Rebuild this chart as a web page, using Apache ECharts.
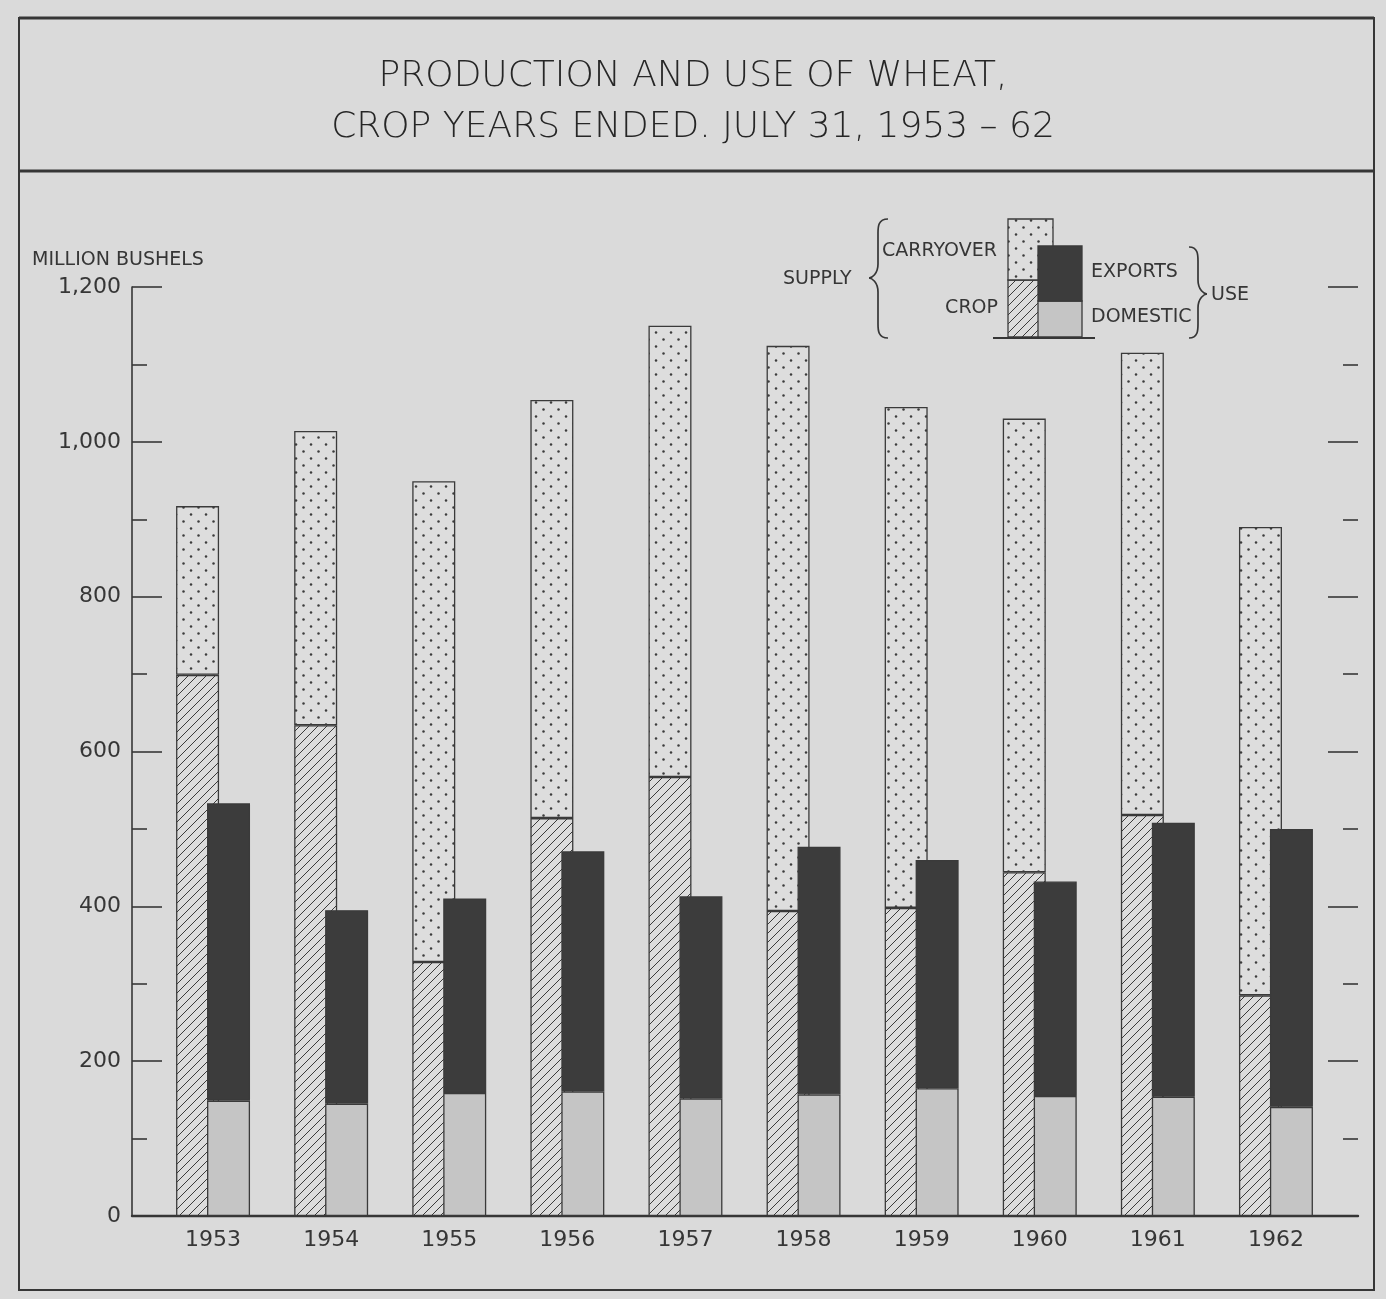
<!DOCTYPE html>
<html>
<head>
<meta charset="utf-8">
<script src="https://cdn.jsdelivr.net/npm/echarts@6/dist/echarts.min.js"></script>
<style>
  html, body { margin: 0; padding: 0; background: #d9d9d9; }
  #chart { width: 1386px; height: 1299px; }
</style>
</head>
<body>
<div id="chart"></div>
<script>
// crop years ended July 31, million bushels
const years = ['1953', '1954', '1955', '1956', '1957', '1958', '1959', '1960', '1961', '1962'];
const crop = [699, 634, 328, 514, 567, 394, 398, 444, 518, 285];
const carryover = [218, 380, 621, 540, 583, 730, 647, 586, 597, 605];
const domestic = [149, 145, 159, 161, 152, 157, 165, 155, 154, 141];
const exportsUse = [384, 250, 251, 310, 261, 320, 295, 277, 354, 359];

const ink = '#363636';
const paper = '#dadada';
const font = 'DejaVu Sans';

// little canvas tiles for the printed textures
function hatchTile() {
    const c = document.createElement('canvas');
    c.width = 9; c.height = 9;
    const g = c.getContext('2d');
    g.fillStyle = '#dcdcdc';
    g.fillRect(0, 0, 9, 9);
    g.strokeStyle = '#3a3a3a';
    g.lineWidth = 1.0;
    g.beginPath();
    g.moveTo(-1, 10); g.lineTo(10, -1);
    g.moveTo(-1, 1); g.lineTo(1, -1);
    g.moveTo(8, 10); g.lineTo(10, 8);
    g.stroke();
    return c;
}
function dotTile() {
    const c = document.createElement('canvas');
    c.width = 15; c.height = 14;
    const g = c.getContext('2d');
    g.fillStyle = '#dddddd';
    g.fillRect(0, 0, 15, 14);
    g.fillStyle = '#3c3c3c';
    [[3.5, 3.5], [11, 10.5]].forEach(p => {
        g.beginPath();
        g.arc(p[0], p[1], 1.25, 0, Math.PI * 2);
        g.fill();
    });
    return c;
}

const hatchFill = { image: hatchTile(), repeat: 'repeat' };
const dotFill = { image: dotTile(), repeat: 'repeat' };
const domesticFill = '#c5c5c5';
const exportsFill = '#3c3c3c';

const barStyle = (fill) => ({ color: fill, borderColor: '#3a3a3a', borderWidth: 1.3 });

function brace(xTip, xSpine, xPoint, top, mid, bottom) {
    const r = 14, k = 8;
    const ls = { stroke: ink, lineWidth: 1.7, fill: null };
    return [
        { type: 'bezierCurve', shape: { x1: xTip, y1: top, cpx1: xSpine, cpy1: top, cpx2: xSpine, cpy2: top + k, x2: xSpine, y2: top + r }, style: ls },
        { type: 'line', shape: { x1: xSpine, y1: top + r, x2: xSpine, y2: mid - r }, style: ls },
        { type: 'bezierCurve', shape: { x1: xSpine, y1: mid - r, cpx1: xSpine, cpy1: mid - k + 4, cpx2: xPoint + (xSpine - xPoint) * 0.3, cpy2: mid, x2: xPoint, y2: mid }, style: ls },
        { type: 'bezierCurve', shape: { x1: xPoint, y1: mid, cpx1: xPoint + (xSpine - xPoint) * 0.3, cpy1: mid, cpx2: xSpine, cpy2: mid + k - 4, x2: xSpine, y2: mid + r }, style: ls },
        { type: 'line', shape: { x1: xSpine, y1: mid + r, x2: xSpine, y2: bottom - r }, style: ls },
        { type: 'bezierCurve', shape: { x1: xSpine, y1: bottom - r, cpx1: xSpine, cpy1: bottom - k, cpx2: xSpine, cpy2: bottom, x2: xTip, y2: bottom }, style: ls }
    ];
}

function label(text, x, y, align) {
    return {
        type: 'text',
        style: { text: text, x: x, y: y, fill: ink, font: '19px "' + font + '"', textAlign: align || 'left', textVerticalAlign: 'middle' }
    };
}

const legendKey = [
    { type: 'rect', shape: { x: 1008, y: 280, width: 45, height: 57 }, style: { fill: hatchFill, stroke: '#3a3a3a', lineWidth: 1.3 } },
    { type: 'rect', shape: { x: 1008, y: 219, width: 45, height: 61 }, style: { fill: dotFill, stroke: '#3a3a3a', lineWidth: 1.3 } },
    { type: 'rect', shape: { x: 1038, y: 301, width: 44, height: 36 }, style: { fill: domesticFill, stroke: '#3a3a3a', lineWidth: 1.3 } },
    { type: 'rect', shape: { x: 1038, y: 246, width: 44, height: 55 }, style: { fill: exportsFill, stroke: '#3a3a3a', lineWidth: 1.3 } },
    { type: 'line', shape: { x1: 993, y1: 338, x2: 1095, y2: 338 }, style: { stroke: ink, lineWidth: 2.2 } },
    label('SUPPLY', 783, 279),
    label('CARRYOVER', 882, 251),
    label('CROP', 998, 308, 'right'),
    label('EXPORTS', 1091, 272),
    label('DOMESTIC', 1091, 317),
    label('USE', 1211, 295)
].concat(brace(888, 878, 869, 219, 278, 338), brace(1189, 1198, 1207, 247, 294, 338));

const frame = [
    { type: 'rect', shape: { x: 19, y: 18, width: 1355, height: 1272 }, style: { fill: null, stroke: ink, lineWidth: 2 } },
    { type: 'line', shape: { x1: 19, y1: 18, x2: 1374, y2: 18 }, style: { stroke: ink, lineWidth: 3 } },
    { type: 'line', shape: { x1: 19, y1: 171, x2: 1374, y2: 171 }, style: { stroke: ink, lineWidth: 3 } }
];

const chart = echarts.init(document.getElementById('chart'));

const option = {
    backgroundColor: paper,
    animation: false,
    title: [{
        text: 'PRODUCTION AND USE OF WHEAT,\nCROP YEARS ENDED. JULY 31, 1953 – 62',
        left: 'center',
        top: 46,
        textStyle: { fontFamily: font, fontSize: 36, fontWeight: 200, color: '#262626', lineHeight: 51 }
    }, {
        text: 'MILLION BUSHELS',
        left: 27,
        top: 246,
        textStyle: { fontFamily: font, fontSize: 19, fontWeight: 'normal', color: ink }
    }],
    grid: [
        // axes frame: left axis line, baseline, right-side ticks
        { left: 132, right: 28, top: 287, bottom: 83 },
        // bars
        { left: 154, right: 51, top: 287, bottom: 83 }
    ],
    xAxis: [{
        gridIndex: 0, type: 'value', min: 0, max: 1,
        axisLine: { show: true, lineStyle: { color: ink, width: 2.4 } },
        axisTick: { show: false }, axisLabel: { show: false }, splitLine: { show: false }
    }, {
        gridIndex: 1, type: 'category', data: years,
        axisLine: { show: false }, axisTick: { show: false },
        axisLabel: { margin: 13, fontFamily: font, fontSize: 22, color: ink }
    }],
    yAxis: [{
        gridIndex: 0, type: 'value', min: 0, max: 1200, interval: 200,
        axisLine: { show: true, lineStyle: { color: ink, width: 1.6 } },
        axisTick: { show: true, inside: true, length: 30, lineStyle: { color: ink, width: 1.6 } },
        minorTick: { show: true, splitNumber: 2, length: 15, lineStyle: { color: ink, width: 1.6 } },
        axisLabel: {
            margin: 11, fontFamily: font, fontSize: 22, color: ink,
            formatter: v => v.toLocaleString('en-US')
        },
        splitLine: { show: false }
    }, {
        gridIndex: 0, type: 'value', position: 'right', min: 0, max: 1200, interval: 200,
        axisLine: { show: false },
        axisTick: { show: true, inside: true, length: 30, lineStyle: { color: ink, width: 1.6 } },
        minorTick: { show: true, splitNumber: 2, length: 15, lineStyle: { color: ink, width: 1.6 } },
        axisLabel: { show: false },
        splitLine: { show: false }
    }, {
        gridIndex: 1, type: 'value', min: 0, max: 1200, show: false
    }],
    series: [{
        name: 'Crop', type: 'bar', stack: 'supply', data: crop,
        xAxisIndex: 1, yAxisIndex: 2, barWidth: 43, barGap: '-28%',
        itemStyle: barStyle(hatchFill)
    }, {
        name: 'Carryover', type: 'bar', stack: 'supply', data: carryover,
        xAxisIndex: 1, yAxisIndex: 2, barWidth: 43, barGap: '-28%',
        itemStyle: barStyle(dotFill)
    }, {
        name: 'Domestic', type: 'bar', stack: 'use', data: domestic,
        xAxisIndex: 1, yAxisIndex: 2, barWidth: 43, barGap: '-28%',
        itemStyle: barStyle(domesticFill)
    }, {
        name: 'Exports', type: 'bar', stack: 'use', data: exportsUse,
        xAxisIndex: 1, yAxisIndex: 2, barWidth: 43, barGap: '-28%',
        itemStyle: barStyle(exportsFill)
    }],
    graphic: { elements: frame.concat(legendKey) }
};

chart.setOption(option);
</script>
</body>
</html>
